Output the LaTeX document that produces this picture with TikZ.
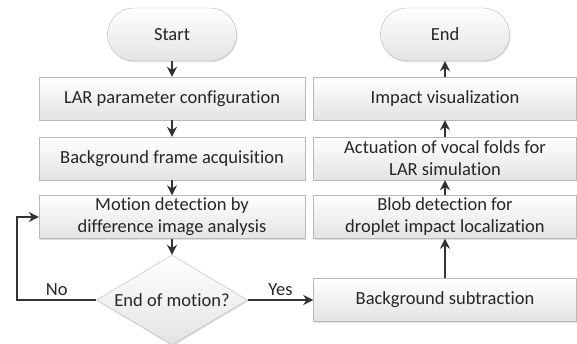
\documentclass[tikz,border=0pt]{standalone}
\usepackage{fontspec}
\setmainfont[Ligatures=NoCommon]{Carlito}
\usetikzlibrary{shapes,
	arrows.meta,
	shadows}

\begin{document}
\begin{tikzpicture}[x=1pt, y=1pt, >={Stealth[length=10pt, width=10pt]},
                stepbox/.style={draw=gray!55, top color=white, bottom color=gray!22,
                    drop shadow={shadow xshift=1pt, shadow yshift=-1.2pt, opacity=0.25},
                    minimum height=43pt, inner sep=2pt, align=center, text=black!85,
                    font=\fontsize{18.5}{22}\selectfont},
                leftbox/.style={stepbox, minimum width=266pt},
                rightbox/.style={stepbox, minimum width=263pt},
                term/.style={stepbox, rounded rectangle, minimum width=133pt, minimum height=53pt},
                decision/.style={stepbox, diamond, aspect=1.68, minimum width=151pt,
                    minimum height=90pt, inner sep=0pt},
                flow/.style={->, draw=black!80, line width=1.8pt},
                answer/.style={above, text=black!85, font=\fontsize{18.5}{22}\selectfont}]
            \useasboundingbox (0, 0) rectangle (577, 344);
            \node[term] (start) at (172, 309.5) {Start};
            \node[leftbox] (config) at (172, 245.5) {LAR parameter configuration};
            \node[leftbox] (backgr) at (172, 185.5) {Background frame acquisition};
            \node[leftbox] (motion) at (172, 127) {Motion detection by\\difference image analysis};
            \node[decision] (endmot) at (172, 44) {End of motion?};
            \node[rightbox] (subtr) at (445, 44) {Background subtraction};
            \node[rightbox] (blob) at (445, 127) {Blob detection for\\droplet impact localization};
            \node[rightbox] (actuat) at (445, 185.5) {Actuation of vocal folds for\\LAR simulation};
            \node[rightbox] (impact) at (445, 245.5) {Impact visualization};
            \node[term] (end) at (445, 309.5) {End};
            \coordinate (loop) at (17, 44);
            \draw[flow] (start) -- (config);
            \draw[flow] (config) -- (backgr);
            \draw[flow] (backgr) -- (motion);
            \draw[flow] (motion) -- (endmot);
            \draw[flow] (endmot.west) -- node[answer] (no) {No} (loop) |- (motion.west);
            \draw[flow] (endmot.east) -- node[answer] (yes) {Yes} (subtr.west);
            \draw[flow] (subtr) -- (blob);
            \draw[flow] (blob) -- (actuat);
            \draw[flow] (actuat) -- (impact);
            \draw[flow] (impact) -- (end);
        \end{tikzpicture}
\end{document}
